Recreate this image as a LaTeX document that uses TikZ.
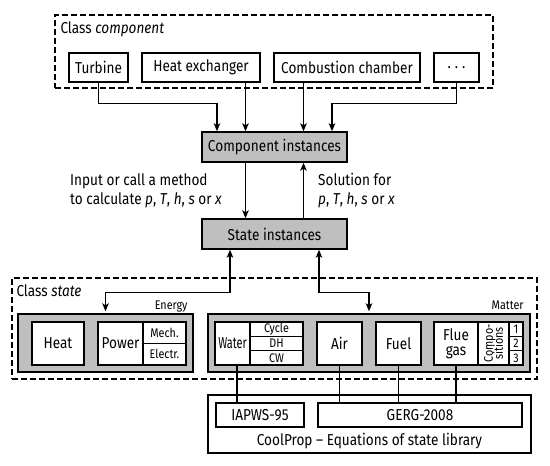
\documentclass[tikz,border=0pt]{standalone}
\usepackage{fontspec}
\setmainfont{Fira Sans}[FakeStretch=0.86]
\usetikzlibrary{arrows.meta}
\newcommand\mainsz{\fontsize{15.8}{18}\selectfont}
\newcommand\smallsz{\fontsize{12.5}{14}\selectfont}
\tikzset{
  bx/.style={draw, line width=1.4pt, fill=white, inner sep=0pt, font=\mainsz},
  graybx/.style={draw, line width=1.4pt, fill=gray!50, inner sep=0pt, font=\mainsz},
  smallbx/.style={draw, line width=1.4pt, fill=white, inner sep=0pt, font=\smallsz},
  classbox/.style={draw, line width=1.4pt, dash pattern=on 6pt off 3pt, inner sep=0pt},
  lbl/.style={inner sep=0pt, font=\mainsz},
  smalllbl/.style={inner sep=0pt, font=\smallsz},
  arr/.style={line width=1.4pt, -{Stealth[length=8pt,width=6.5pt,inset=2pt]}},
  darr/.style={line width=1.4pt, {Stealth[length=8pt,width=6.5pt,inset=2pt]}-{Stealth[length=8pt,width=6.5pt,inset=2pt]}},
  ln/.style={line width=1.4pt}
}
\begin{document}
\begin{tikzpicture}[x=1pt,y=-1pt]
\useasboundingbox (0,0) rectangle (550,466);
% class component
\node[classbox, minimum width=438pt, minimum height=73pt] (compclass) at (274,51.5) {};
\node[lbl, anchor=base west] (compclasslbl) at ([xshift=6pt,yshift=-19pt]compclass.north west) {Class \textit{component}};
\node[bx, minimum width=59pt, minimum height=29pt] (turbine) at (98.5,67.5) {Turbine};
\node[bx, minimum width=118pt, minimum height=29pt] (hex) at (201,67.5) {Heat exchanger};
\node[bx, minimum width=146pt, minimum height=29pt] (cc) at (347,67.5) {Combustion chamber};
\node[bx, minimum width=45pt, minimum height=29pt] (dots) at (456.5,67.5) {.\hspace{4pt}.\hspace{4pt}.};
% instances
\node[graybx, minimum width=145pt, minimum height=30pt] (ci) at (274.5,147) {Component instances};
\node[graybx, minimum width=145pt, minimum height=30pt] (si) at (274.5,234) {State instances};
\coordinate (ciA) at ([xshift=-57.5pt]ci.north);
\coordinate (ciB) at ([xshift=-29pt]ci.north);
\coordinate (ciC) at ([xshift=29pt]ci.north);
\coordinate (ciD) at ([xshift=57.5pt]ci.north);
\draw[arr] (turbine.south) -- ++(0,21) -| (ciA);
\draw[arr] (hex.south -| ciB) -- (ciB);
\draw[arr] (cc.south -| ciC) -- (ciC);
\draw[arr] (dots.south) -- ++(0,21) -| (ciD);
\draw[arr] ([xshift=-29pt]ci.south) -- ([xshift=-29pt]si.north);
\draw[arr] ([xshift=29pt]si.north) -- ([xshift=29pt]ci.south);
\node[lbl, anchor=base west] (inA) at (70,185) {Input or call a method};
\node[lbl, anchor=base west] (inB) at (70,204) {to calculate \textit{p}, \textit{T}, \textit{h}, \textit{s} or \textit{x}};
\node[lbl, anchor=base west] (solA) at (318,185) {Solution for};
\node[lbl, anchor=base west] (solB) at (318,204) {\textit{p}, \textit{T}, \textit{h}, \textit{s} or \textit{x}};
% class state
\node[classbox, minimum width=525pt, minimum height=101pt] (stateclass) at (274.5,328.5) {};
\node[lbl, anchor=base west] (stateclasslbl) at ([xshift=5pt,yshift=-19pt]stateclass.north west) {Class \textit{state}};
\node[graybx, minimum width=175pt, minimum height=58pt] (energy) at (105.5,343) {};
\node[graybx, minimum width=322pt, minimum height=58pt] (matter) at (369,343) {};
\node[smalllbl, anchor=base east] (energylbl) at ([xshift=-6pt,yshift=4pt]energy.north east) {Energy};
\node[smalllbl, anchor=base east] (matterlbl) at ([xshift=-7pt,yshift=4pt]matter.north east) {Matter};
\draw[darr] ([xshift=-44.5pt]si.south) -- ++(0,43) -| ([yshift=2pt]energy.north);
\draw[darr] ([xshift=44.5pt]si.south) -- ++(0,43) -| ([yshift=2pt]matter.north);
% energy
\node[bx, minimum width=52pt, minimum height=43pt] (heat) at (58,343.5) {Heat};
\node[bx, minimum width=45pt, minimum height=43pt] (power) at (120.5,343.5) {Power};
\node[smallbx, minimum width=43pt, minimum height=21.5pt] (mech) at (164.5,332.75) {Mech.};
\node[smallbx, minimum width=43pt, minimum height=21.5pt] (electr) at (164.5,354.25) {Electr.};
% matter
\node[bx, minimum width=35pt, minimum height=43pt] (water) at (232.5,343.5) {\scalebox{0.8}[1]{Water}};
\node[smallbx, minimum width=53pt, minimum height=14.33pt] (cycle) at (276.5,329.17) {Cycle};
\node[smallbx, minimum width=53pt, minimum height=14.33pt] (dh) at (276.5,343.5) {DH};
\node[smallbx, minimum width=53pt, minimum height=14.33pt] (cw) at (276.5,357.83) {CW};
\node[bx, minimum width=45pt, minimum height=43pt] (air) at (339.5,343.5) {Air};
\node[bx, minimum width=45pt, minimum height=43pt] (fuel) at (398.5,343.5) {Fuel};
\node[bx, minimum width=44pt, minimum height=43pt, align=center] (flue) at (456,343.5) {Flue\\[-3pt]gas};
\node[smallbx, minimum width=31pt, minimum height=43pt] (compo) at (493.5,343.5) {};
\node[smalllbl, rotate=90, align=center] (compolbl) at (compo.center) {Compo-\\[-4pt]sitions};
\node[smallbx, minimum width=14pt, minimum height=14.33pt] (n1) at (516,329.17) {1};
\node[smallbx, minimum width=14pt, minimum height=14.33pt] (n2) at (516,343.5) {2};
\node[smallbx, minimum width=14pt, minimum height=14.33pt] (n3) at (516,357.83) {3};
% coolprop
\node[bx, minimum width=323pt, minimum height=58pt] (coolprop) at (369.5,424) {};
\node[bx, minimum width=88pt, minimum height=24pt] (iapws) at (260,415) {IAPWS-95};
\node[bx, minimum width=204pt, minimum height=24pt] (gerg) at (420,415) {GERG-2008};
\node[lbl, anchor=base] (cplbl) at ([yshift=8pt]coolprop.south) {CoolProp -- Equations of state library};
\draw[ln] ([xshift=4.5pt]water.south) -- ([xshift=4.5pt]water.south |- iapws.north);
\draw[ln] (air.south) -- (air.south |- gerg.north);
\draw[ln] (fuel.south) -- (fuel.south |- gerg.north);
\draw[ln] (flue.south) -- (flue.south |- gerg.north);
\end{tikzpicture}
\end{document}
